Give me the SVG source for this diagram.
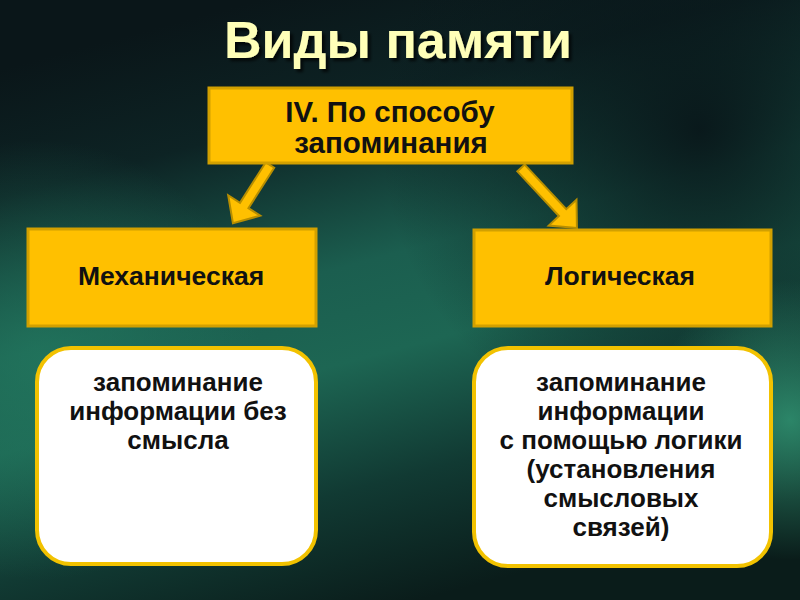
<svg xmlns="http://www.w3.org/2000/svg" width="800" height="600" viewBox="0 0 800 600">
  <defs>
    <linearGradient id="bg" gradientUnits="userSpaceOnUse" x1="260" y1="0" x2="420" y2="600">
      <stop offset="0" stop-color="#0a1619"/>
      <stop offset="0.2" stop-color="#0d2324"/>
      <stop offset="0.45" stop-color="#1b5e4f"/>
      <stop offset="0.6" stop-color="#1d6653"/>
      <stop offset="0.8" stop-color="#113a33"/>
      <stop offset="1" stop-color="#0a1c1a"/>
    </linearGradient>
    <radialGradient id="glowR" cx="790" cy="420" r="140" gradientUnits="userSpaceOnUse">
      <stop offset="0" stop-color="#2f8f6f" stop-opacity="0.9"/>
      <stop offset="1" stop-color="#2f8f6f" stop-opacity="0"/>
    </radialGradient>
    <radialGradient id="glowL" cx="40" cy="360" r="220" gradientUnits="userSpaceOnUse">
      <stop offset="0" stop-color="#237a60" stop-opacity="0.7"/>
      <stop offset="1" stop-color="#237a60" stop-opacity="0"/>
    </radialGradient>
    <radialGradient id="darkTR" cx="700" cy="130" r="320" gradientUnits="userSpaceOnUse">
      <stop offset="0" stop-color="#081317" stop-opacity="0.9"/>
      <stop offset="1" stop-color="#081317" stop-opacity="0"/>
    </radialGradient>
    <filter id="shadow" x="-10%" y="-30%" width="120%" height="160%">
      <feDropShadow dx="3" dy="3" stdDeviation="1.5" flood-color="#000" flood-opacity="0.7"/>
    </filter>
    <style>
      .t { font-family: "Liberation Sans", Arial, sans-serif; font-weight: bold; text-anchor: middle; fill: #111; }
      .d { font-size: 26px; }
      .gold { fill: #FFC000; stroke: #D2A000; stroke-width: 3; }
      .card { fill: #FFFFFF; stroke: #F2C200; stroke-width: 4; }
      .arrow { fill: #FFC000; stroke: #B88E00; stroke-width: 2; stroke-linejoin: miter; }
    </style>
  </defs>

  <rect x="0" y="0" width="800" height="600" fill="url(#bg)"/>
  <rect x="0" y="0" width="800" height="600" fill="url(#darkTR)"/>
  <rect x="0" y="0" width="800" height="600" fill="url(#glowL)"/>
  <rect x="0" y="0" width="800" height="600" fill="url(#glowR)"/>

  <g id="title">
    <text class="t" x="398" y="58" font-size="52" style="fill:#FFFFB8" filter="url(#shadow)">Виды памяти</text>
  </g>

  <g id="connectors">
    <polygon class="arrow" transform="translate(270,165) rotate(122.5)" points="0,-5 48,-5 48,-19 69,0 48,19 48,5 0,5"/>
    <polygon class="arrow" transform="translate(521,168) rotate(47)" points="0,-5 61,-5 61,-19 82,0 61,19 61,5 0,5"/>
  </g>

  <g id="node-top">
    <rect class="gold" x="209" y="88" width="363" height="75"/>
    <text class="t" x="390" y="122" font-size="29.5">IV. По способу</text>
    <text class="t" x="391" y="153" font-size="29.5">запоминания</text>
  </g>

  <g id="node-mech">
    <rect class="gold" x="28" y="229" width="288" height="97"/>
    <text class="t" x="171" y="285" font-size="26.5">Механическая</text>
  </g>

  <g id="node-log">
    <rect class="gold" x="474" y="230" width="297" height="96"/>
    <text class="t" x="620" y="285" font-size="26.5">Логическая</text>
  </g>

  <g id="node-mech-desc">
    <rect class="card" x="37" y="348" width="279" height="216" rx="34"/>
    <text class="t d" x="178" y="391">запоминание</text>
    <text class="t d" x="178" y="420">информации без</text>
    <text class="t d" x="178" y="449">смысла</text>
  </g>

  <g id="node-log-desc">
    <rect class="card" x="474" y="348" width="297" height="218" rx="34"/>
    <text class="t d" x="621" y="391">запоминание</text>
    <text class="t d" x="621" y="420">информации</text>
    <text class="t d" x="621" y="449">с помощью логики</text>
    <text class="t d" x="621" y="478">(установления</text>
    <text class="t d" x="621" y="507">смысловых</text>
    <text class="t d" x="621" y="536">связей)</text>
  </g>
</svg>
